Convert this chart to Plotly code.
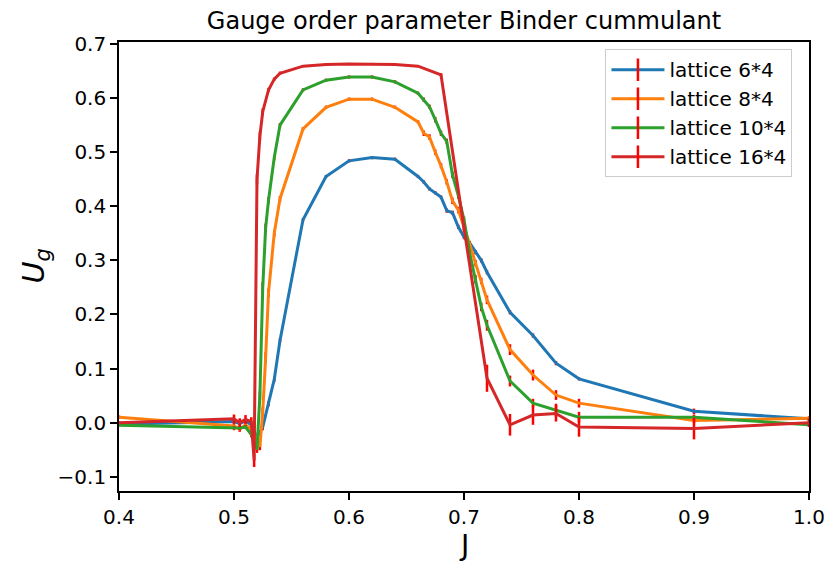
import plotly.graph_objects as go

# ---------------- data ----------------
labels = ["lattice 6*4", "lattice 8*4", "lattice 10*4", "lattice 16*4"]
colors = ["#1f77b4", "#ff7f0e", "#2ca02c", "#d62728"]

j_6 = [0.4, 0.5, 0.505, 0.51, 0.515, 0.52, 0.525, 0.53, 0.535, 0.54, 0.56, 0.58, 0.6, 0.62,
       0.64, 0.66, 0.665, 0.67, 0.675, 0.68, 0.685, 0.69, 0.695, 0.7, 0.705, 0.71, 0.715,
       0.72, 0.74, 0.76, 0.78, 0.8, 0.9, 1.0]
u_6 = [-0.003, 0.002, -0.002, 0.003, -0.004, -0.028, -0.008, 0.035, 0.080, 0.152, 0.375,
       0.455, 0.484, 0.490, 0.487, 0.455, 0.445, 0.432, 0.425, 0.417, 0.392, 0.388, 0.362,
       0.343, 0.332, 0.315, 0.300, 0.278, 0.204, 0.161, 0.110, 0.081, 0.021, 0.007]
e_6 = [0.002, 0.004, 0.004, 0.004, 0.004, 0.006, 0.006, 0.005, 0.005, 0.004, 0.003, 0.003,
       0.003, 0.003, 0.003, 0.003, 0.003, 0.003, 0.003, 0.003, 0.004, 0.004, 0.004, 0.004,
       0.004, 0.004, 0.004, 0.004, 0.004, 0.004, 0.004, 0.003, 0.005, 0.003]

j_8 = [0.4, 0.5, 0.505, 0.51, 0.515, 0.52, 0.5225, 0.525, 0.5275, 0.53, 0.535, 0.54, 0.56,
       0.58, 0.6, 0.62, 0.64, 0.66, 0.665, 0.67, 0.675, 0.68, 0.685, 0.69, 0.695, 0.7, 0.705,
       0.71, 0.715, 0.72, 0.74, 0.76, 0.78, 0.8, 0.9, 1.0]
u_8 = [0.010, -0.006, -0.012, -0.004, -0.012, -0.030, -0.045, 0.020, 0.120, 0.240, 0.350,
       0.414, 0.543, 0.583, 0.598, 0.598, 0.583, 0.556, 0.535, 0.528, 0.500, 0.475, 0.445,
       0.410, 0.393, 0.362, 0.330, 0.295, 0.262, 0.227, 0.135, 0.088, 0.051, 0.036, 0.004, 0.008]
e_8 = [0.003, 0.005, 0.005, 0.005, 0.005, 0.006, 0.006, 0.008, 0.010, 0.008, 0.006, 0.005,
       0.003, 0.003, 0.003, 0.003, 0.003, 0.003, 0.005, 0.005, 0.005, 0.005, 0.005, 0.006,
       0.006, 0.006, 0.006, 0.006, 0.006, 0.008, 0.010, 0.010, 0.009, 0.008, 0.005, 0.004]

j_10 = list(j_8)
u_10 = [-0.005, -0.010, -0.010, -0.008, -0.022, -0.050, 0.050, 0.250, 0.360, 0.411, 0.490,
        0.550, 0.615, 0.633, 0.639, 0.639, 0.630, 0.609, 0.597, 0.584, 0.560, 0.535, 0.520,
        0.458, 0.420, 0.375, 0.313, 0.265, 0.214, 0.180, 0.077, 0.036, 0.023, 0.010, 0.010, -0.004]
e_10 = [0.002, 0.004, 0.004, 0.004, 0.005, 0.006, 0.008, 0.010, 0.008, 0.006, 0.005, 0.004,
        0.003, 0.003, 0.003, 0.003, 0.003, 0.003, 0.004, 0.004, 0.005, 0.005, 0.005, 0.006,
        0.006, 0.006, 0.006, 0.008, 0.008, 0.010, 0.010, 0.008, 0.012, 0.010, 0.005, 0.003]

j_16 = [0.4, 0.5, 0.505, 0.51, 0.515, 0.5175, 0.52, 0.5225, 0.525, 0.53, 0.535, 0.54, 0.56,
        0.58, 0.6, 0.62, 0.64, 0.66, 0.68, 0.7, 0.72, 0.74, 0.76, 0.78, 0.8, 0.9, 1.0]
u_16 = [0.000, 0.007, 0.000, 0.006, 0.002, -0.070, 0.450, 0.530, 0.575, 0.615, 0.635, 0.646,
        0.659, 0.662, 0.663, 0.663, 0.662, 0.659, 0.643, 0.360, 0.082, -0.004, 0.014, 0.017,
        -0.008, -0.011, 0.000]
e_16 = [0.002, 0.008, 0.008, 0.008, 0.008, 0.012, 0.010, 0.008, 0.006, 0.004, 0.003, 0.003,
        0.002, 0.002, 0.002, 0.002, 0.002, 0.002, 0.003, 0.008, 0.025, 0.020, 0.018, 0.015,
        0.018, 0.020, 0.008]

x_ticks = [0.4, 0.5, 0.6, 0.7, 0.8, 0.9, 1.0]
y_ticks = [-0.1, 0.0, 0.1, 0.2, 0.3, 0.4, 0.5, 0.6, 0.7]

series = [(j_6, u_6, e_6), (j_8, u_8, e_8), (j_10, u_10, e_10), (j_16, u_16, e_16)]

FONT = "DejaVu Sans"
fig = go.Figure()

for (xs, ys, es), c, lab in zip(series, colors, labels):
    fig.add_trace(go.Scatter(
        x=xs, y=ys, mode="lines", line=dict(color=c, width=3),
        error_y=dict(type="data", array=es, visible=True, color="red",
                     thickness=2.5, width=0),
        showlegend=False, name=lab, cliponaxis=True))

# legend entries (line with red vertical error mark)
for c, lab in zip(colors, labels):
    fig.add_trace(go.Scatter(
        x=[None], y=[None], mode="lines+markers", name=lab,
        line=dict(color=c, width=3),
        marker=dict(symbol="line-ns", size=16, color="red",
                    line=dict(color="red", width=2.5)),
        showlegend=True))

fig.update_layout(
    template="none",
    width=828, height=563,
    margin=dict(l=119, r=19, t=42, b=72, autoexpand=False),
    paper_bgcolor="white", plot_bgcolor="white",
    font=dict(family=FONT, size=20, color="black"),
    title=dict(text="Gauge order parameter Binder cummulant",
               x=0.5, xref="paper", xanchor="center",
               y=1 - 21 / 563, yref="container", yanchor="middle",
               font=dict(family=FONT, size=24, color="black")),
    xaxis=dict(range=[0.4, 1.0], tickvals=x_ticks,
               ticktext=[f"{v:.1f}" for v in x_ticks], automargin=False,
               ticks="outside", ticklen=7, tickwidth=1.6, tickcolor="black",
               showline=True, linecolor="black", linewidth=1.6, mirror=True,
               showgrid=False, zeroline=False,
               tickfont=dict(family=FONT, size=20)),
    yaxis=dict(range=[-0.1264, 0.7037], tickvals=y_ticks,
               ticktext=[(f"{v:.1f}" if v >= 0 else "\u2212" + f"{abs(v):.1f}") for v in y_ticks],
               automargin=False,
               ticks="outside", ticklen=7, tickwidth=1.6, tickcolor="black",
               showline=True, linecolor="black", linewidth=1.6, mirror=True,
               showgrid=False, zeroline=False,
               tickfont=dict(family=FONT, size=20)),
    legend=dict(x=0.705, y=0.984, xanchor="left", yanchor="top",
                bgcolor="rgba(255,255,255,0.8)", bordercolor="#cccccc", borderwidth=1,
                font=dict(family=FONT, size=20), itemwidth=53, tracegroupgap=0),
    annotations=[
        dict(text="J", xref="paper", yref="paper", x=0.5, y=0,
             yshift=-54, showarrow=False, font=dict(family=FONT, size=28),
             xanchor="center", yanchor="middle"),
        dict(text="<i>U</i><sub><i>g</i></sub>", xref="paper", yref="paper",
             x=0, y=0.5, xshift=-84, showarrow=False, textangle=-90,
             font=dict(family=FONT, size=30), xanchor="center", yanchor="middle"),
    ],
)

fig.write_html("out.html")
